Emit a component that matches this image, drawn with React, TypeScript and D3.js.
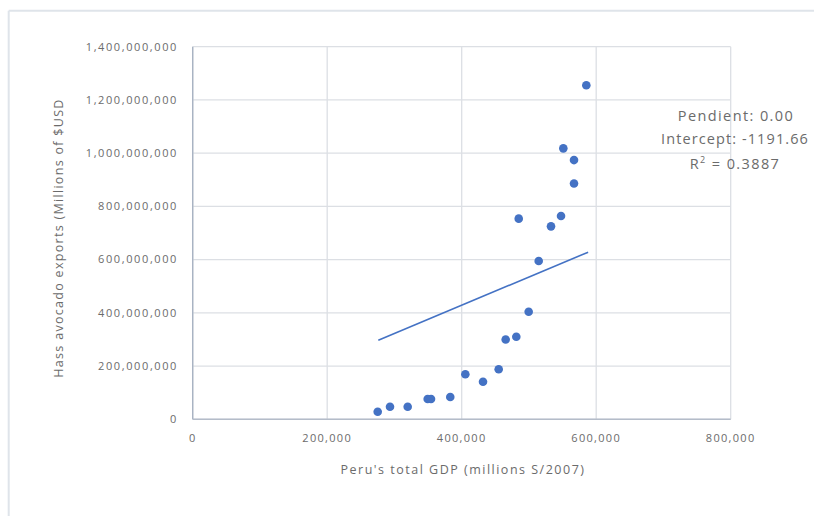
import React from "react";
import * as d3 from "d3";

// Peru's total GDP (millions of soles, 2007 prices) per year
const gdp = [
  275100, 293400, 319700, 349400, 354400, 383000, 405400, 431700, 455000, 465400,
  481200, 499600, 514500, 484800, 532800, 547700, 567000, 567000, 551100, 585300,
];
// Hass avocado exports (USD) for the same years
const avocadoExports = [
  28.6e6, 47e6, 47e6, 76e6, 76e6, 84e6, 169e6, 141e6, 188e6, 300e6,
  310e6, 404e6, 595e6, 754e6, 725e6, 764e6, 886e6, 974e6, 1018e6, 1255e6,
];

// Linear trendline endpoints (GDP, exports)
const trendGdp = [276000, 588000];
const trendExports = [297e6, 628e6];

const xTicks = [0, 200000, 400000, 600000, 800000];
const yTicks = [0, 200e6, 400e6, 600e6, 800e6, 1000e6, 1200e6, 1400e6];

const statLines = ["Pendient: 0.00", "Intercept: -1191.66"];
const rSquared = "0.3887";

const xTitle = "Peru's total GDP  (millions S/2007)";
const yTitle = "Hass avocado exports  (Millions of  $USD";

const W = 814;
const H = 516;
const plot = { left: 192.7, right: 730.7, top: 46.7, bottom: 419.3 };

const FONT = "'Open Sans', 'DejaVu Sans', sans-serif";
const TEXT = "#6b6b6b";
const BLUE = "#4472c4";

export default function App() {
  const x = d3.scaleLinear().domain([0, 800000]).range([plot.left, plot.right]);
  const y = d3.scaleLinear().domain([0, 1400e6]).range([plot.bottom, plot.top]);
  const fmt = d3.format(",");

  const trend = d3
    .line<number>()
    .x((_, i) => x(trendGdp[i]))
    .y((d) => y(d))(trendExports);

  return (
    <div style={{ position: "fixed", left: 0, top: 0, width: W, height: H, background: "#fff" }}>
      <svg width={W} height={H} style={{ display: "block" }} fontFamily={FONT}>
        <rect x={0} y={0} width={W} height={H} fill="#ffffff" />
        {/* outer chart frame */}
        <line x1={8.7} x2={W} y1={10.7} y2={10.7} stroke="#dfe4ea" strokeWidth={2} />
        <line x1={8.7} x2={8.7} y1={10.7} y2={H} stroke="#dfe4ea" strokeWidth={2} />

        {/* gridlines */}
        {yTicks.map((t) => (
          <line key={"gy" + t} x1={plot.left} x2={plot.right} y1={y(t)} y2={y(t)} stroke="#dcdfe4" strokeWidth={1.3} />
        ))}
        {xTicks.map((t) => (
          <line key={"gx" + t} x1={x(t)} x2={x(t)} y1={plot.top} y2={plot.bottom} stroke="#dcdfe4" strokeWidth={1.3} />
        ))}
        {/* axis lines */}
        <line x1={plot.left} x2={plot.left} y1={plot.top} y2={plot.bottom} stroke="#a9b3c3" strokeWidth={1.4} />
        <line x1={plot.left} x2={plot.right} y1={plot.bottom} y2={plot.bottom} stroke="#b4bcc9" strokeWidth={1.4} />

        {/* tick labels */}
        {yTicks.map((t) => (
          <text key={"ly" + t} x={178} y={y(t)} dy="0.35em" textAnchor="end" fontSize={11} letterSpacing={1.6} fill={TEXT}>
            {fmt(t)}
          </text>
        ))}
        {xTicks.map((t) => (
          <text key={"lx" + t} x={x(t)} y={442} textAnchor="middle" fontSize={11} letterSpacing={1.3} fill={TEXT}>
            {fmt(t)}
          </text>
        ))}

        {/* axis titles */}
        <text x={463} y={474} textAnchor="middle" fontSize={12.5} letterSpacing={1.5} fill={TEXT}>
          {xTitle}
        </text>
        <text
          transform={`translate(63,238) rotate(-90)`}
          textAnchor="middle"
          fontSize={12.5}
          letterSpacing={1.3}
          fill={TEXT}
        >
          {yTitle}
        </text>

        {/* trendline */}
        <path d={trend ?? ""} fill="none" stroke={BLUE} strokeWidth={1.6} />

        {/* data points */}
        {gdp.map((g, i) => (
          <circle key={i} cx={x(g)} cy={y(avocadoExports[i])} r={4.3} fill={BLUE} />
        ))}

        {/* regression statistics */}
        <g fontSize={14.5} fill={TEXT} textAnchor="middle" letterSpacing={1.4}>
          <text x={736} y={121}>{statLines[0]}</text>
          <text x={735} y={144} letterSpacing={1.1}>{statLines[1]}</text>
          <text x={735} y={169}>
            R<tspan dy={-6} fontSize={9}>2</tspan>
            <tspan dy={6}> = {rSquared}</tspan>
          </text>
        </g>
      </svg>
    </div>
  );
}
